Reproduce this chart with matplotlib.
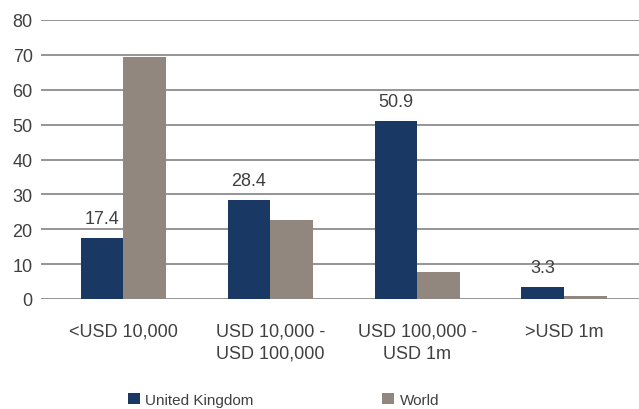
import numpy as np
import matplotlib.pyplot as plt

plt.rcParams['font.family'] = ['Liberation Sans', 'DejaVu Sans']

categories = ['<USD 10,000', 'USD 10,000 -\nUSD 100,000', 'USD 100,000 -\nUSD 1m', '>USD 1m']
uk = [17.4, 28.4, 50.9, 3.3]
world = [69.3, 22.6, 7.7, 0.9]

navy = '#1a3864'
taupe = '#91877e'
txt = '#404040'

fig = plt.figure(figsize=(6.39, 4.10), dpi=100)
ax = fig.add_axes([41/639, 1 - 300/410, 598/639, 279/410])

x = np.arange(len(categories))
w = 0.29
b1 = ax.bar(x - w/2, uk, w, color=navy, label='United Kingdom', zorder=3)
b2 = ax.bar(x + w/2, world, w, color=taupe, label='World', zorder=3)

for xi, v in zip(x, uk):
    ax.annotate(f'{v:.1f}', (xi - w/2, v), xytext=(0, 8), textcoords='offset points',
                ha='center', va='bottom', fontsize=13, color=txt)

ax.set_ylim(0, 80)
ax.set_yticks(range(0, 81, 10))
ax.set_xlim(-0.561, 3.51)
ax.set_xticks(x)
ax.set_xticklabels(categories, fontsize=13, color=txt, linespacing=1.4)
ax.tick_params(axis='x', length=0, pad=17)
ax.tick_params(axis='y', length=0, pad=6, labelsize=13, labelcolor=txt)
ax.yaxis.grid(True, color='#8c8c8c', linewidth=1.3, zorder=0)
for s in ax.spines.values():
    s.set_visible(False)

fig.legend(handles=[b1, b2], loc='lower left', bbox_to_anchor=(114/639, -0.028), ncol=2,
           frameon=False, fontsize=11, handlelength=0.8, handleheight=0.8,
           handletextpad=0.35, columnspacing=8.4, labelcolor=txt)

fig.savefig('out.png', dpi=100)
